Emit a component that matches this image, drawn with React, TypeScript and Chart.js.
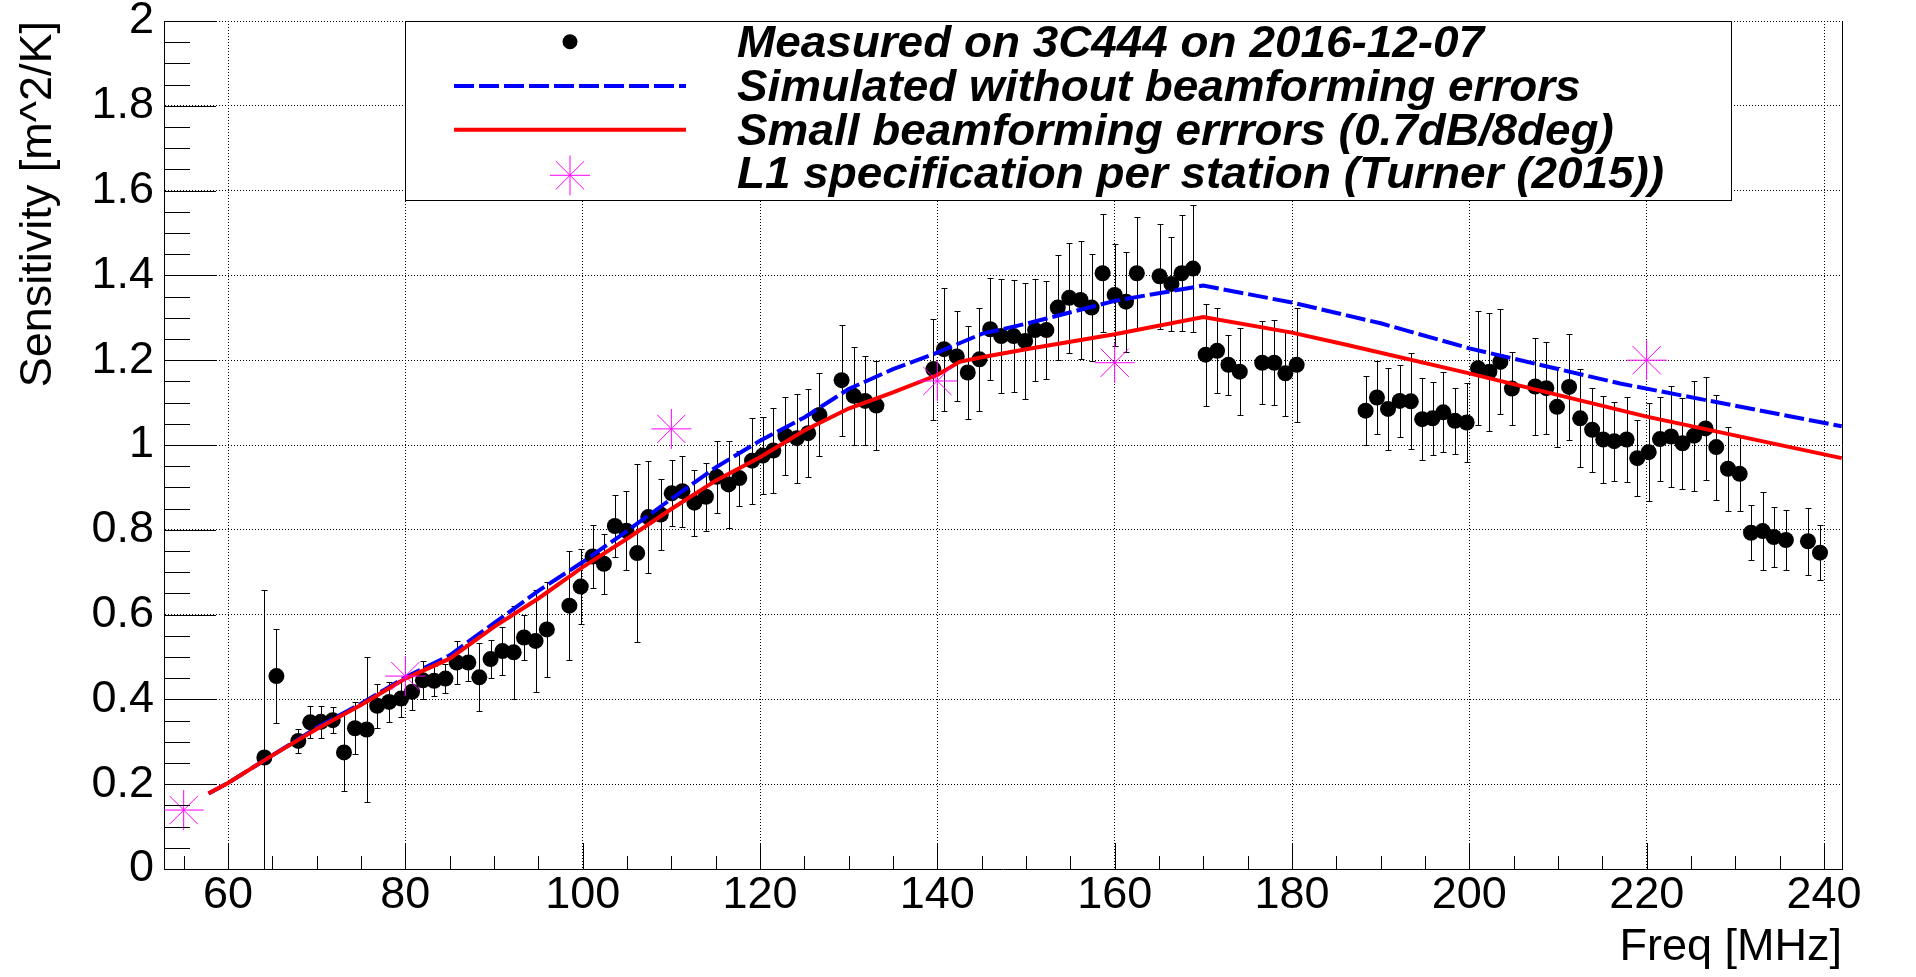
import { useEffect, useRef } from 'react';
import { Chart, registerables } from 'chart.js';

Chart.register(...registerables);

// measured sensitivity on 3C444 (MHz, m^2/K, +-error)
const measFreq = [
  64.1, 65.46, 67.93, 69.27, 70.47, 71.81, 73.08, 74.32, 75.63, 76.82, 78.17, 79.51, 80.75, 81.98, 83.25, 84.52,
  85.79, 87.1, 88.34, 89.61, 90.95, 92.22, 93.38, 94.69, 95.96, 98.5, 99.78, 101.12, 102.39, 103.63, 104.93,
  106.15, 107.4, 108.8, 110.04, 111.25, 112.6, 113.9, 115.1, 116.45, 117.66, 119.1, 120.3, 121.5, 122.87, 124.15,
  125.43, 126.7, 129.2, 130.57, 131.85, 133.13, 139.55, 140.75, 142.19, 143.43, 144.75, 145.96, 147.2, 148.6, 149.9,
  151.02, 152.3, 153.58, 154.87, 156.15, 157.4, 158.64, 160.0, 161.28, 162.5, 165.06, 166.4, 167.55, 168.83,
  170.26, 171.55, 172.83, 174.11, 176.64, 178.0, 179.25, 180.53, 188.3, 189.58, 190.83, 192.15, 193.4, 194.68,
  195.85, 197.06, 198.38, 199.7, 200.98, 202.26, 203.5, 204.8, 207.43, 208.68, 209.89, 211.25, 212.5, 213.85,
  215.1, 216.34, 217.74, 218.94, 220.23, 221.5, 222.75, 224.04, 225.36, 226.64, 227.85, 229.17, 230.49, 231.77,
  233.09, 234.34, 235.7, 238.19, 239.55,
];
const measSens = [
  0.263, 0.455, 0.302, 0.346, 0.347, 0.351, 0.275, 0.332, 0.329, 0.385, 0.394, 0.402, 0.418, 0.445, 0.444, 0.449,
  0.487, 0.487, 0.452, 0.495, 0.514, 0.511, 0.546, 0.538, 0.565, 0.621, 0.666, 0.737, 0.72, 0.809, 0.798,
  0.745, 0.83, 0.836, 0.886, 0.891, 0.864, 0.878, 0.925, 0.907, 0.922, 0.963, 0.975, 0.987, 1.022, 1.016,
  1.028, 1.071, 1.153, 1.116, 1.104, 1.093, 1.179, 1.226, 1.209, 1.171, 1.202, 1.273, 1.257, 1.257, 1.245,
  1.271, 1.271, 1.324, 1.347, 1.342, 1.324, 1.405, 1.354, 1.338, 1.405, 1.398, 1.38, 1.405, 1.416,
  1.213, 1.222, 1.189, 1.173, 1.194, 1.194, 1.169, 1.189, 1.081, 1.112, 1.085, 1.104, 1.103, 1.061,
  1.063, 1.077, 1.057, 1.053, 1.181, 1.173, 1.196, 1.133, 1.138, 1.134, 1.09, 1.137, 1.063, 1.036,
  1.013, 1.009, 1.013, 0.969, 0.983, 1.014, 1.02, 1.004, 1.022, 1.039, 0.995, 0.944, 0.932, 0.793,
  0.797, 0.783, 0.776, 0.773, 0.746,
];
const measErr = [
  0.396, 0.11, 0.028, 0.038, 0.038, 0.031, 0.092, 0.061, 0.17, 0.052, 0.048, 0.043, 0.042, 0.045, 0.035, 0.035,
  0.051, 0.043, 0.08, 0.045, 0.057, 0.11, 0.052, 0.121, 0.112, 0.128, 0.089, 0.074, 0.071, 0.073, 0.093,
  0.21, 0.133, 0.083, 0.078, 0.084, 0.078, 0.08, 0.085, 0.103, 0.065, 0.101, 0.09, 0.1, 0.092, 0.105,
  0.104, 0.098, 0.131, 0.116, 0.105, 0.105, 0.119, 0.145, 0.106, 0.11, 0.122, 0.12, 0.134, 0.132, 0.137,
  0.121, 0.115, 0.123, 0.13, 0.138, 0.126, 0.139, 0.12, 0.118, 0.133, 0.124, 0.111, 0.137, 0.15,
  0.12, 0.1, 0.071, 0.102, 0.098, 0.1, 0.101, 0.134, 0.082, 0.087, 0.096, 0.084, 0.113, 0.097,
  0.086, 0.094, 0.078, 0.094, 0.134, 0.139, 0.124, 0.086, 0.114, 0.108, 0.095, 0.125, 0.116, 0.099,
  0.103, 0.093, 0.1, 0.09, 0.115, 0.099, 0.119, 0.107, 0.13, 0.122, 0.124, 0.099, 0.087, 0.065,
  0.091, 0.07, 0.07, 0.079, 0.065,
];

// simulated, no beamforming errors
const simFreq = [57.8, 60, 65, 70, 75, 80, 85, 90, 95, 100, 105, 110, 115, 120, 125, 130, 135, 140, 145, 150, 160, 170, 180, 190, 200, 217, 242];
const simSens = [0.178, 0.203, 0.268, 0.333, 0.39, 0.452, 0.504, 0.58, 0.656, 0.724, 0.797, 0.873, 0.947, 1.01, 1.065, 1.132, 1.179, 1.218, 1.262, 1.286, 1.34, 1.376, 1.336, 1.287, 1.228, 1.145, 1.044];

// simulated, small beamforming errors
const beamFreq = [57.8, 60, 65, 70, 75, 80, 85, 90, 95, 100, 105, 110, 115, 120, 125, 130, 135, 140, 142.5, 145, 150, 160, 170, 180, 186, 200, 220, 242];
const beamSens = [0.178, 0.203, 0.268, 0.33, 0.387, 0.449, 0.496, 0.571, 0.638, 0.712, 0.779, 0.849, 0.916, 0.971, 1.034, 1.086, 1.124, 1.165, 1.196, 1.207, 1.226, 1.261, 1.302, 1.265, 1.237, 1.169, 1.067, 0.969];

// L1 specification per station
const specFreq = [55, 80, 110, 140, 160, 220];
const specSens = [0.139, 0.455, 1.038, 1.151, 1.194, 1.2];

const legendLabels = [
  'Measured on 3C444 on 2016-12-07',
  'Simulated without beamforming errors',
  'Small beamforming errrors (0.7dB/8deg)',
  'L1 specification per station (Turner (2015))',
];

const FONT = '"Liberation Sans", Arial, Helvetica, sans-serif';
const BLUE = '#0000ff';
const RED = '#ff0000';
const MAGENTA = '#ff00ff';
const DASH = [20, 5];

const toPoints = (xs: number[], ys: number[]) => xs.map((x, i) => ({ x, y: ys[i] }));

function drawStar(ctx: CanvasRenderingContext2D, x: number, y: number, r: number) {
  const d = r * Math.SQRT1_2;
  ctx.beginPath();
  ctx.moveTo(x - r, y); ctx.lineTo(x + r, y);
  ctx.moveTo(x, y - r); ctx.lineTo(x, y + r);
  ctx.moveTo(x - d, y - d); ctx.lineTo(x + d, y + d);
  ctx.moveTo(x - d, y + d); ctx.lineTo(x + d, y - d);
  ctx.stroke();
}

const errorBars = {
  id: 'errorBars',
  beforeDatasetsDraw(chart: Chart) {
    const { ctx, chartArea: a } = chart;
    const xs = chart.scales.x;
    const ys = chart.scales.y;
    ctx.save();
    ctx.beginPath();
    ctx.rect(a.left, a.top, a.right - a.left, a.bottom - a.top);
    ctx.clip();
    ctx.strokeStyle = '#000';
    ctx.lineWidth = 1;
    ctx.beginPath();
    measFreq.forEach((f, i) => {
      const px = Math.round(xs.getPixelForValue(f)) + 0.5;
      const top = Math.round(ys.getPixelForValue(measSens[i] + measErr[i])) + 0.5;
      const bot = Math.round(ys.getPixelForValue(measSens[i] - measErr[i])) + 0.5;
      ctx.moveTo(px, top); ctx.lineTo(px, bot);
      ctx.moveTo(px - 3, top); ctx.lineTo(px + 3, top);
      ctx.moveTo(px - 3, bot); ctx.lineTo(px + 3, bot);
    });
    ctx.stroke();
    ctx.restore();
  },
};

const frame = {
  id: 'frame',
  afterDatasetsDraw(chart: Chart) {
    const { ctx, chartArea: a } = chart;
    const xs = chart.scales.x;
    const ys = chart.scales.y;
    ctx.save();
    ctx.strokeStyle = '#000';
    ctx.lineWidth = 1;
    ctx.beginPath();
    // ticks inside the frame, 4 subdivisions per labelled step
    for (let i = 11; i <= 48; i++) {
      const px = Math.round(xs.getPixelForValue(i * 5)) + 0.5;
      const len = i % 4 === 0 ? 26 : 13;
      ctx.moveTo(px, a.bottom); ctx.lineTo(px, a.bottom - len);
    }
    for (let i = 0; i <= 40; i++) {
      const py = Math.round(ys.getPixelForValue(i * 0.05)) + 0.5;
      const len = i % 4 === 0 ? 52 : 26;
      ctx.moveTo(a.left, py); ctx.lineTo(a.left + len, py);
    }
    ctx.moveTo(Math.round(a.right) + 0.5, a.top);
    ctx.lineTo(Math.round(a.right) + 0.5, a.bottom + 0.5);
    ctx.stroke();
    ctx.restore();
  },
};

const legendAndTitles = {
  id: 'legendAndTitles',
  afterDraw(chart: Chart) {
    const { ctx, chartArea: a } = chart;
    ctx.save();

    // axis titles
    ctx.fillStyle = '#000';
    ctx.font = `45px ${FONT}`;
    ctx.textAlign = 'right';
    ctx.textBaseline = 'alphabetic';
    ctx.fillText('Freq [MHz]', a.right, 960);
    ctx.save();
    ctx.translate(51, a.top);
    ctx.rotate(-Math.PI / 2);
    ctx.fillText('Sensitivity [m^2/K]', 0, 0);
    ctx.restore();

    // legend box
    const bx = 405.5, by = a.top + 0.5, bw = 1326, bh = 179;
    ctx.fillStyle = '#fff';
    ctx.fillRect(bx, by, bw, bh);
    ctx.strokeStyle = '#000';
    ctx.lineWidth = 1;
    ctx.strokeRect(bx, by, bw, bh);

    const cx = 570;
    const rows = [41.7, 86, 129.7, 175.3];
    const baselines = [57.3, 101, 144.7, 188.3];

    ctx.fillStyle = '#000';
    ctx.beginPath();
    ctx.arc(cx, rows[0], 7.5, 0, Math.PI * 2);
    ctx.fill();

    ctx.lineWidth = 4;
    ctx.strokeStyle = BLUE;
    ctx.setLineDash(DASH);
    ctx.beginPath();
    ctx.moveTo(454, rows[1]); ctx.lineTo(686, rows[1]);
    ctx.stroke();
    ctx.setLineDash([]);
    ctx.strokeStyle = RED;
    ctx.beginPath();
    ctx.moveTo(454, rows[2]); ctx.lineTo(686, rows[2]);
    ctx.stroke();

    ctx.lineWidth = 1;
    ctx.strokeStyle = MAGENTA;
    drawStar(ctx, cx, rows[3], 20);

    ctx.font = `italic bold 44px ${FONT}`;
    ctx.textAlign = 'left';
    ctx.fillStyle = '#000';
    const sx = 927 / ctx.measureText(legendLabels[3]).width;
    legendLabels.forEach((label, i) => {
      ctx.save();
      ctx.translate(737, baselines[i]);
      ctx.scale(sx, 1);
      ctx.fillText(label, 0, 0);
      ctx.restore();
    });

    ctx.restore();
  },
};

export default function App() {
  const canvasRef = useRef<HTMLCanvasElement>(null);
  const chartRef = useRef<Chart | null>(null);

  useEffect(() => {
    document.body.style.margin = '0';
    if (!canvasRef.current) return;

    chartRef.current = new Chart(canvasRef.current, {
      type: 'scatter',
      data: {
        datasets: [
          {
            label: 'spec',
            data: toPoints(specFreq, specSens),
            pointStyle: 'star',
            pointRadius: 20,
            pointHoverRadius: 20,
            borderColor: MAGENTA,
            backgroundColor: 'rgba(0,0,0,0)',
            borderWidth: 1,
            order: 0,
          },
          {
            label: 'beam',
            data: toPoints(beamFreq, beamSens),
            showLine: true,
            borderColor: RED,
            borderWidth: 4,
            pointRadius: 0,
            pointHoverRadius: 0,
            tension: 0,
            order: 1,
          },
          {
            label: 'sim',
            data: toPoints(simFreq, simSens),
            showLine: true,
            borderColor: BLUE,
            borderWidth: 4,
            borderDash: DASH,
            pointRadius: 0,
            pointHoverRadius: 0,
            tension: 0,
            order: 2,
          },
          {
            label: 'measured',
            data: toPoints(measFreq, measSens),
            pointStyle: 'circle',
            pointRadius: 8,
            pointHoverRadius: 8,
            backgroundColor: '#000',
            borderWidth: 0,
            order: 3,
          },
        ],
      },
      options: {
        responsive: false,
        devicePixelRatio: 1,
        animation: false,
        events: [],
        layout: { padding: { top: 19, right: 74, left: 0, bottom: 0 } },
        plugins: { legend: { display: false }, tooltip: { enabled: false } },
        scales: {
          x: {
            type: 'linear',
            min: 52.78,
            max: 242.03,
            afterFit: (s: any) => {
              s.height = 108;
              s.paddingLeft = 0;
              s.paddingRight = 0;
            },
            ticks: {
              stepSize: 20,
              includeBounds: false,
              autoSkip: false,
              maxRotation: 0,
              minRotation: 0,
              padding: 0,
              color: '#000',
              font: { family: FONT, size: 45 },
            },
            grid: { color: '#000', lineWidth: 1, drawTicks: false },
            border: { display: true, color: '#000', width: 1, dash: [1, 2] },
          },
          y: {
            type: 'linear',
            min: 0,
            max: 2,
            afterFit: (s: any) => {
              s.width = 164;
              s.paddingTop = 0;
              s.paddingBottom = 0;
            },
            ticks: {
              stepSize: 0.2,
              autoSkip: false,
              padding: 10,
              color: '#000',
              font: { family: FONT, size: 45 },
              callback: (v: any) => `${Math.round(Number(v) * 10) / 10}`,
            },
            grid: { color: '#000', lineWidth: 1, drawTicks: false },
            border: { display: true, color: '#000', width: 1, dash: [1, 2] },
          },
        },
      },
      plugins: [errorBars, frame, legendAndTitles],
    });

    return () => {
      if (chartRef.current) {
        chartRef.current.destroy();
        chartRef.current = null;
      }
    };
  }, []);

  return (
    <div style={{ width: 1916, height: 977, background: '#fff' }}>
      <canvas ref={canvasRef} width={1916} height={977} style={{ display: 'block' }} />
    </div>
  );
}
